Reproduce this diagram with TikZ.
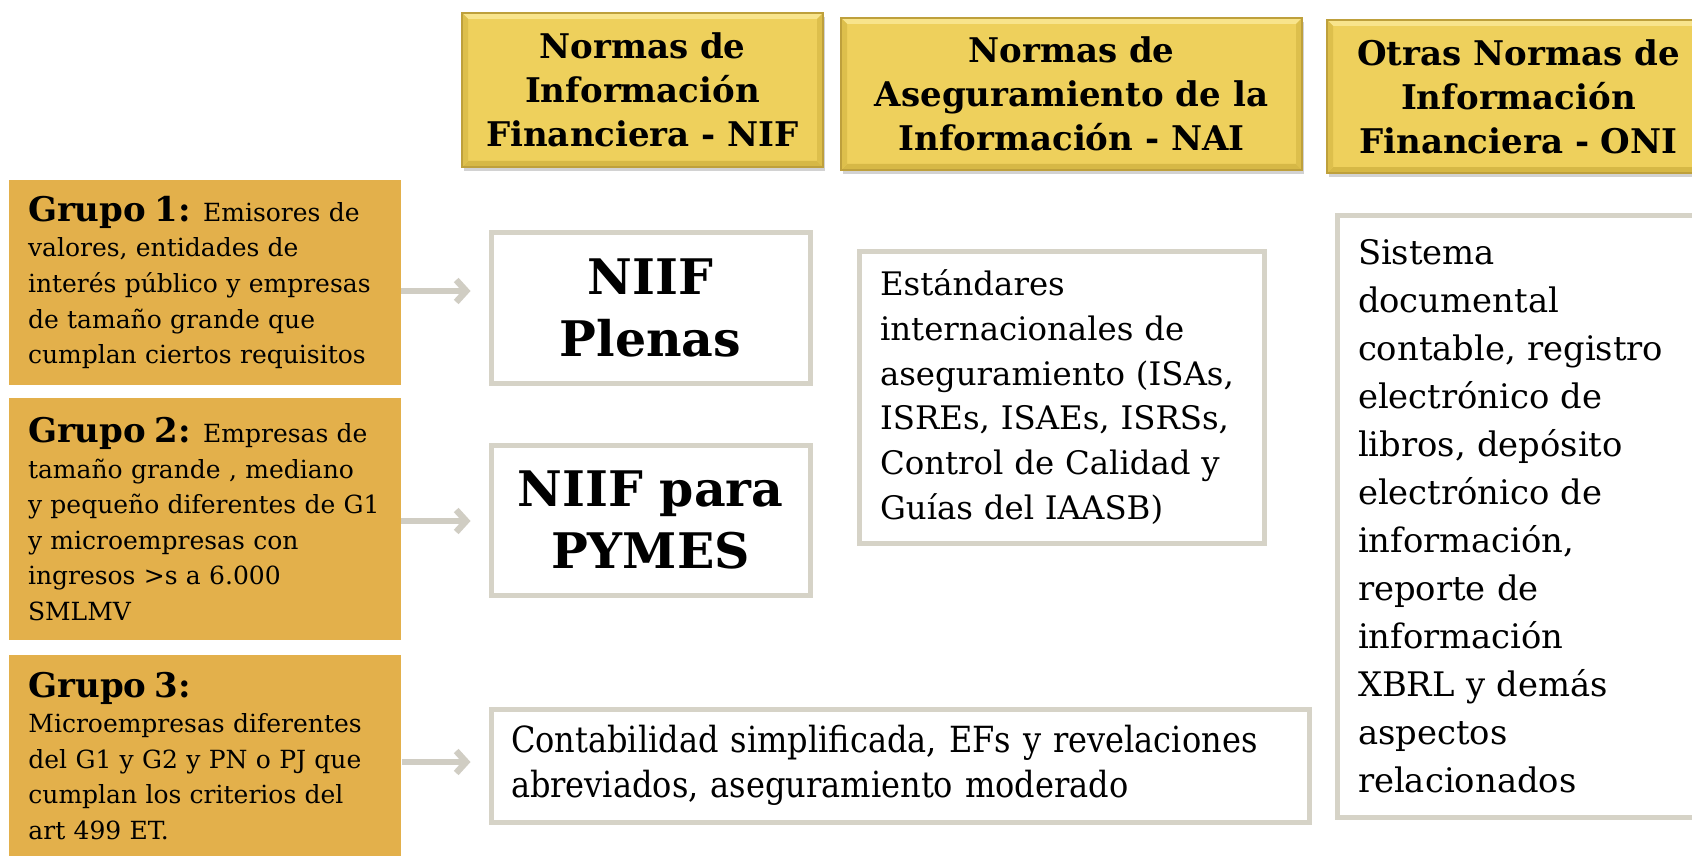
\documentclass[tikz,border=0pt]{standalone}
\usepackage{fontspec}
\setmainfont{DejaVu Serif}
\newfontfamily\condfont[FakeStretch=0.89]{DejaVu Serif}
\usetikzlibrary{shadows,arrows.meta}
\definecolor{hdr}{RGB}{238,208,92}
\definecolor{hdrlight}{RGB}{248,228,140}
\definecolor{hdrshade}{RGB}{214,184,70}
\definecolor{hdrdark}{RGB}{190,160,60}
\definecolor{grp}{RGB}{227,176,75}
\definecolor{wbord}{RGB}{214,211,199}
\definecolor{arrowgray}{RGB}{208,205,195}
\begin{document}
\begin{tikzpicture}[x=0.5pt,y=-0.5pt,
  header/.style={fill=hdr, draw=hdrdark, line width=0.8pt,
    drop shadow={shadow xshift=1pt,shadow yshift=-2pt,opacity=0.35},
    align=center, inner sep=0pt,
    font=\bfseries\fontsize{17}{22}\selectfont,
    path picture={
      \fill[hdrlight] (path picture bounding box.north west) -- (path picture bounding box.north east)
        -- ([xshift=-3pt,yshift=-3pt]path picture bounding box.north east)
        -- ([xshift=3pt,yshift=-3pt]path picture bounding box.north west) -- cycle;
      \fill[hdrshade] (path picture bounding box.south west) -- (path picture bounding box.south east)
        -- ([xshift=-3pt,yshift=3pt]path picture bounding box.south east)
        -- ([xshift=3pt,yshift=3pt]path picture bounding box.south west) -- cycle;
      \fill[hdrshade!70!hdr] (path picture bounding box.north east) -- (path picture bounding box.south east)
        -- ([xshift=-3pt,yshift=3pt]path picture bounding box.south east)
        -- ([xshift=-3pt,yshift=-3pt]path picture bounding box.north east) -- cycle;
      \fill[hdrshade!70!hdr] (path picture bounding box.north west) -- (path picture bounding box.south west)
        -- ([xshift=3pt,yshift=3pt]path picture bounding box.south west)
        -- ([xshift=3pt,yshift=-3pt]path picture bounding box.north west) -- cycle;
    }},
  group/.style={fill=grp, inner xsep=9.5pt, inner ysep=0pt, text width=177pt,
    align=left, font=\fontsize{12.5}{17.8}\selectfont},
  wbox/.style={draw=wbord, line width=2.5pt, fill=white, inner sep=0pt},
  conn/.style={draw=arrowgray, line width=3.2pt,
    -{Straight Barb[length=5pt,width=11pt]}, shorten >=9pt}]
\clip (0,0) rectangle (1692,856);
\fill[white] (0,0) rectangle (1692,856);

% headers
\node[header, minimum width=180.5pt, minimum height=77pt] (nif) at (642.5,90)
  {Normas de\\Información\\Financiera - NIF};
\node[header, minimum width=230.5pt, minimum height=76pt] (nai) at (1071.5,94)
  {Normas de\\Aseguramiento de la\\Información - NAI};
\node[header, minimum width=191.5pt, minimum height=76.5pt] (oni) at (1518.5,96.5)
  {Otras Normas de\\Información\\Financiera - ONI};

% groups
\node[group, minimum height=102.5pt] (g1) at (205,282.5)
  {{\bfseries\fontsize{17}{17.8}\selectfont Grupo 1:} Emisores de\\valores, entidades de\\interés público y empresas\\de tamaño grande que\\cumplan ciertos requisitos};
\node[group, minimum height=121pt] (g2) at (205,519)
  {{\bfseries\fontsize{17}{17.8}\selectfont Grupo 2:} Empresas de\\tamaño grande , mediano\\y pequeño diferentes de G1\\y microempresas con\\ingresos >s a 6.000\\SMLMV};
\node[group, anchor=north west, minimum height=100.5pt] (g3) at (9,655)
  {{\bfseries\fontsize{17}{17.8}\selectfont Grupo 3:}\\Microempresas diferentes\\del G1 y G2 y PN o PJ que\\cumplan los criterios del\\art 499 ET.};

% white boxes
\node[wbox, minimum width=159.5pt, minimum height=75.5pt, align=center,
  font=\bfseries\fontsize{24.5}{31}\selectfont] (plenas) at (650.5,307.5)
  {NIIF\\Plenas};
\node[wbox, minimum width=159.5pt, minimum height=75pt, align=center,
  font=\bfseries\fontsize{24.5}{31}\selectfont] (pymes) at (650.5,520)
  {NIIF para\\PYMES};
\node[wbox, minimum width=202.5pt, minimum height=146pt, inner xsep=10.5pt,
  text width=181.5pt, align=left, font=\fontsize{16.2}{22.4}\selectfont] (naitxt) at (1061.5,397)
  {Estándares\\internacionales de\\aseguramiento (ISAs,\\ISREs, ISAEs, ISRSs,\\Control de Calidad y\\Guías del IAASB)};
\node[wbox, minimum width=191.5pt, minimum height=301pt, inner xsep=10.5pt,
  text width=170.5pt, align=left, font=\fontsize{16.9}{24}\selectfont] (onitxt) at (1528.5,516)
  {Sistema\\documental\\contable, registro\\electrónico de\\libros, depósito\\electrónico de\\información,\\reporte de\\información\\XBRL y demás\\aspectos\\relacionados};
\node[wbox, minimum width=409pt, minimum height=56.5pt, inner xsep=10pt,
  text width=389pt, align=left, font=\condfont\fontsize{18}{22.6}\selectfont] (cont) at (900,765.5)
  {Contabilidad simplificada, EFs y revelaciones\\abreviados, aseguramiento moderado};

% connectors
\draw[conn] (g1.east |- 0,291) -- (plenas.west |- 0,291);
\draw[conn] (g2.east |- 0,521) -- (pymes.west |- 0,521);
\draw[conn] (g3.east |- 0,762) -- (cont.west |- 0,762);
\end{tikzpicture}
\end{document}
